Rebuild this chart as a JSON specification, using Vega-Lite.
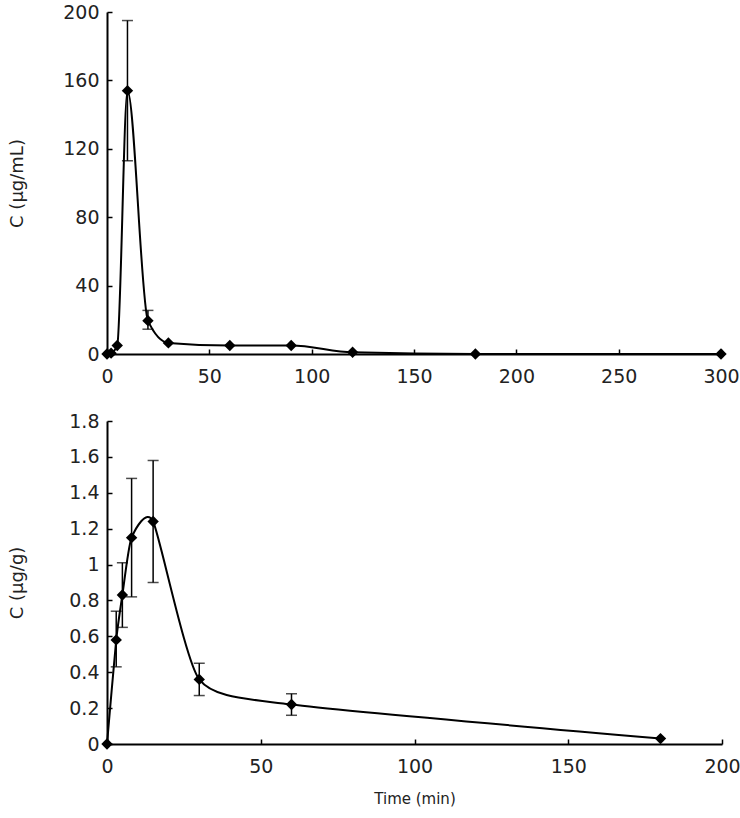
{
  "$schema": "https://vega.github.io/schema/vega-lite/v6.json",
  "padding": {"left": 8, "top": 3, "right": 5, "bottom": 5},
  "background": "white",
  "spacing": 26,
  "config": {
    "view": {"stroke": null},
    "font": "DejaVu Sans",
    "axis": {
      "grid": false,
      "labelFlush": false,
      "domainColor": "black",
      "domainWidth": 2,
      "tickColor": "black",
      "tickWidth": 1.5,
      "tickSize": -5,
      "labelFontSize": 19,
      "labelColor": "#222",
      "labelFont": "DejaVu Sans",
      "titleFont": "DejaVu Sans",
      "titleFontSize": 15,
      "titleFontWeight": "normal",
      "titleColor": "#222"
    },
    "axisX": {"labelPadding": 18},
    "axisY": {"labelPadding": 13, "titleFontSize": 18, "titleX": -81}
  },
  "datasets": {
    "a": [
      {"time": 0, "c": 0},
      {"time": 2, "c": 0.5},
      {"time": 5, "c": 5},
      {"time": 10, "c": 154, "lo": 113, "hi": 195},
      {"time": 20, "c": 19.5, "lo": 14.5, "hi": 25.5},
      {"time": 30, "c": 6.5},
      {"time": 60, "c": 5},
      {"time": 90, "c": 5},
      {"time": 120, "c": 1},
      {"time": 180, "c": 0},
      {"time": 300, "c": 0}
    ],
    "b": [
      {"time": 0, "c": 0},
      {"time": 3, "c": 0.58, "lo": 0.43, "hi": 0.74},
      {"time": 5, "c": 0.83, "lo": 0.65, "hi": 1.01},
      {"time": 8, "c": 1.15, "lo": 0.82, "hi": 1.48},
      {"time": 15, "c": 1.24, "lo": 0.9, "hi": 1.58},
      {"time": 30, "c": 0.36, "lo": 0.27, "hi": 0.45},
      {"time": 60, "c": 0.22, "lo": 0.16, "hi": 0.28},
      {"time": 180, "c": 0.03}
    ],
    "one": [{"k": 1}]
  },
  "vconcat": [
    {
      "width": 614,
      "height": 342,
      "encoding": {
        "x": {"field": "time", "type": "quantitative", "scale": {"domain": [0, 300], "nice": false},
              "axis": {"values": [0, 50, 100, 150, 200, 250, 300], "title": null}},
        "y": {"field": "c", "type": "quantitative", "scale": {"domain": [0, 200], "nice": false},
              "axis": {"values": [0, 40, 80, 120, 160, 200], "title": "C (μg/mL)"}}
      },
      "layer": [
        {"data": {"name": "a"}, "mark": {"type": "line", "interpolate": "monotone", "color": "black", "strokeWidth": 2}},
        {"data": {"name": "a"}, "mark": {"type": "rule", "color": "black", "strokeWidth": 1.5},
         "encoding": {"y": {"field": "lo", "type": "quantitative"}, "y2": {"field": "hi"}}},
        {"data": {"name": "a"}, "mark": {"type": "tick", "orient": "horizontal", "color": "black", "size": 11, "thickness": 1.5},
         "encoding": {"y": {"field": "lo", "type": "quantitative"}}},
        {"data": {"name": "a"}, "mark": {"type": "tick", "orient": "horizontal", "color": "black", "size": 11, "thickness": 1.5},
         "encoding": {"y": {"field": "hi", "type": "quantitative"}}},
        {"data": {"name": "a"}, "mark": {"type": "point", "shape": "diamond", "filled": true, "color": "black", "size": 130, "opacity": 1}},
        {"data": {"name": "one"}, "mark": {"type": "text", "fontSize": 27, "color": "#111", "font": "DejaVu Sans"},
         "encoding": {"x": {"datum": 40, "type": "quantitative"}, "y": {"datum": 189, "type": "quantitative"}, "text": {"value": "A"}}}
      ]
    },
    {
      "width": 615,
      "height": 323,
      "encoding": {
        "x": {"field": "time", "type": "quantitative", "scale": {"domain": [0, 200], "nice": false},
              "axis": {"values": [0, 50, 100, 150, 200], "title": "Time (min)", "titlePadding": 15}},
        "y": {"field": "c", "type": "quantitative", "scale": {"domain": [0, 1.8], "nice": false},
              "axis": {"values": [0, 0.2, 0.4, 0.6, 0.8, 1, 1.2, 1.4, 1.6, 1.8], "format": "~g", "title": "C (μg/g)"}}
      },
      "layer": [
        {"data": {"name": "b"}, "mark": {"type": "line", "interpolate": "cardinal", "tension": 0.4, "color": "black", "strokeWidth": 2}},
        {"data": {"name": "b"}, "mark": {"type": "rule", "color": "black", "strokeWidth": 1.5},
         "encoding": {"y": {"field": "lo", "type": "quantitative"}, "y2": {"field": "hi"}}},
        {"data": {"name": "b"}, "mark": {"type": "tick", "orient": "horizontal", "color": "black", "size": 11, "thickness": 1.5},
         "encoding": {"y": {"field": "lo", "type": "quantitative"}}},
        {"data": {"name": "b"}, "mark": {"type": "tick", "orient": "horizontal", "color": "black", "size": 11, "thickness": 1.5},
         "encoding": {"y": {"field": "hi", "type": "quantitative"}}},
        {"data": {"name": "b"}, "mark": {"type": "point", "shape": "diamond", "filled": true, "color": "black", "size": 130, "opacity": 1}},
        {"data": {"name": "one"}, "mark": {"type": "text", "fontSize": 27, "color": "#111", "font": "DejaVu Sans"},
         "encoding": {"x": {"datum": 27, "type": "quantitative"}, "y": {"datum": 1.74, "type": "quantitative"}, "text": {"value": "B"}}}
      ]
    }
  ]
}
